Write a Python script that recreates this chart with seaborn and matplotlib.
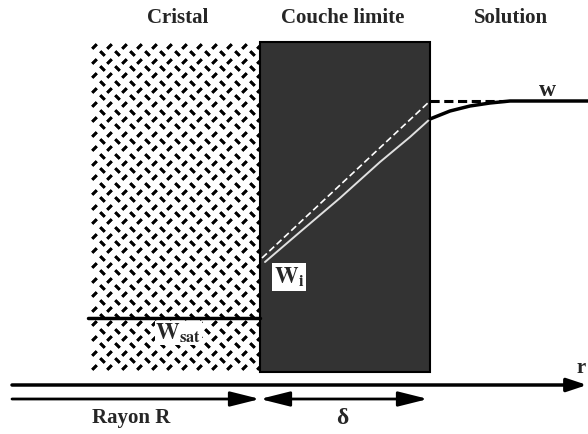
import numpy as np
import matplotlib.pyplot as plt
import seaborn as sns
from matplotlib.patches import Rectangle

# schematic coordinates (figure is 588 x 434 units, y upward)
r_start = 88          # left edge of the crystal block
R = 260               # crystal radius (interface)
R_delta = 430         # R + delta (edge of boundary layer)
zone_bottom = 63
zone_top = 391

w_sat = 116           # saturation concentration
w_i = 172             # interfacial concentration
w_bulk = 333          # bulk solution concentration

# concentration profile
profile_r = [265, 300, 340, 380, 410, 430]
profile_w = [172, 202, 236, 272, 297, 315]
outer_r = [430, 450, 470, 490, 510, 588]
outer_w = [315, 323, 328, 331, 333, 333]

linear_r = [262, R_delta]
linear_w = [176, w_bulk]

titles = ['Cristal', 'Couche limite', 'Solution']
title_x = [178, 343, 511]

sns.set_theme(style='white')
plt.rcParams['font.family'] = ['Liberation Serif', 'DejaVu Serif']
plt.rcParams['mathtext.fontset'] = 'stix'

fig = plt.figure(figsize=(5.88, 4.34), dpi=100)
ax = fig.add_axes([0, 0, 1, 1])
ax.set_xlim(0, 588)
ax.set_ylim(0, 434)
ax.axis('off')

# crystal block with dash texture
crystal = Rectangle((r_start, zone_bottom), R - r_start, zone_top - zone_bottom,
                    facecolor='white', edgecolor='none')
ax.add_patch(crystal)
gx, gy = [], []
hx, hy = [], []
for k, yy in enumerate(np.arange(zone_top - 3, zone_bottom, -7.3)):
    off = 0 if k % 2 == 0 else 7.5
    xs = np.arange(r_start + 6 + off, R, 15)
    if k % 2 == 0:
        gx += list(xs); gy += [yy] * len(xs)
    else:
        hx += list(xs); hy += [yy] * len(xs)
m1, = ax.plot(gx, gy, ls='none', marker=(2, 2, -45), ms=4.5, mew=1.9, color='black')
m2, = ax.plot(hx, hy, ls='none', marker=(2, 2, 45), ms=4.5, mew=1.9, color='black')
m1.set_clip_path(crystal)
m2.set_clip_path(crystal)

# boundary layer
ax.add_patch(Rectangle((R, zone_bottom - 1), R_delta - R, zone_top - zone_bottom + 2,
                       facecolor='#333333', edgecolor='black', lw=1.5, zorder=3))

# saturation level
sns.lineplot(x=[r_start, R], y=[w_sat, w_sat], color='black', lw=2.5, ax=ax, zorder=4)
ax.text(155, 101, r'$\mathbf{W_{sat}}$', fontsize=17, ha='left', va='center', zorder=5,
        bbox=dict(facecolor='white', edgecolor='none', pad=0.3))

# profiles
sns.lineplot(x=linear_r, y=linear_w, color='white', lw=1.2, ls=(0, (4, 2)),
             ax=ax, zorder=5, sort=False)
sns.lineplot(x=profile_r, y=profile_w, color='#e0e0e0', lw=1.4, ax=ax, zorder=5, sort=False)
sns.lineplot(x=outer_r, y=outer_w, color='black', lw=2.5, ax=ax, zorder=5, sort=False)
sns.lineplot(x=[R_delta, 505], y=[w_bulk, w_bulk], color='black', lw=2.2,
             ls=(0, (3, 1.5)), ax=ax, zorder=5)

ax.text(289, 157, r'$\mathbf{W_i}$', fontsize=17, ha='center', va='center', zorder=6,
        bbox=dict(facecolor='white', edgecolor='none', pad=1.5))
ax.text(547, 344, 'w', fontsize=17, fontweight='bold', ha='center', va='center')

# titles
for t, x in zip(titles, title_x):
    ax.text(x, 416, t, fontsize=15, fontweight='bold', ha='center', va='center')

# r axis
ax.annotate('', xy=(587, 49), xytext=(12, 49),
            arrowprops=dict(arrowstyle='-|>,head_length=1.2,head_width=0.4',
                            mutation_scale=10, lw=2.5, color='black',
                            shrinkA=0, shrinkB=0))
ax.text(581, 66, 'r', fontsize=15, fontweight='bold', ha='center', va='center')

# R and delta arrows
ax.annotate('', xy=(R, 35), xytext=(12, 35),
            arrowprops=dict(arrowstyle='-|>,head_length=1.8,head_width=0.45',
                            mutation_scale=10, lw=2, color='black',
                            shrinkA=0, shrinkB=0))
ax.annotate('', xy=(R_delta - 2, 35), xytext=(R, 35),
            arrowprops=dict(arrowstyle='<|-|>,head_length=1.8,head_width=0.45',
                            mutation_scale=10, lw=2, color='black',
                            shrinkA=0, shrinkB=0))
ax.text(131, 16, 'Rayon R', fontsize=15, fontweight='bold', ha='center', va='center')
ax.text(342, 16, 'δ', fontsize=17, fontweight='bold', ha='center', va='center')

fig.savefig('out.png', dpi=100)
